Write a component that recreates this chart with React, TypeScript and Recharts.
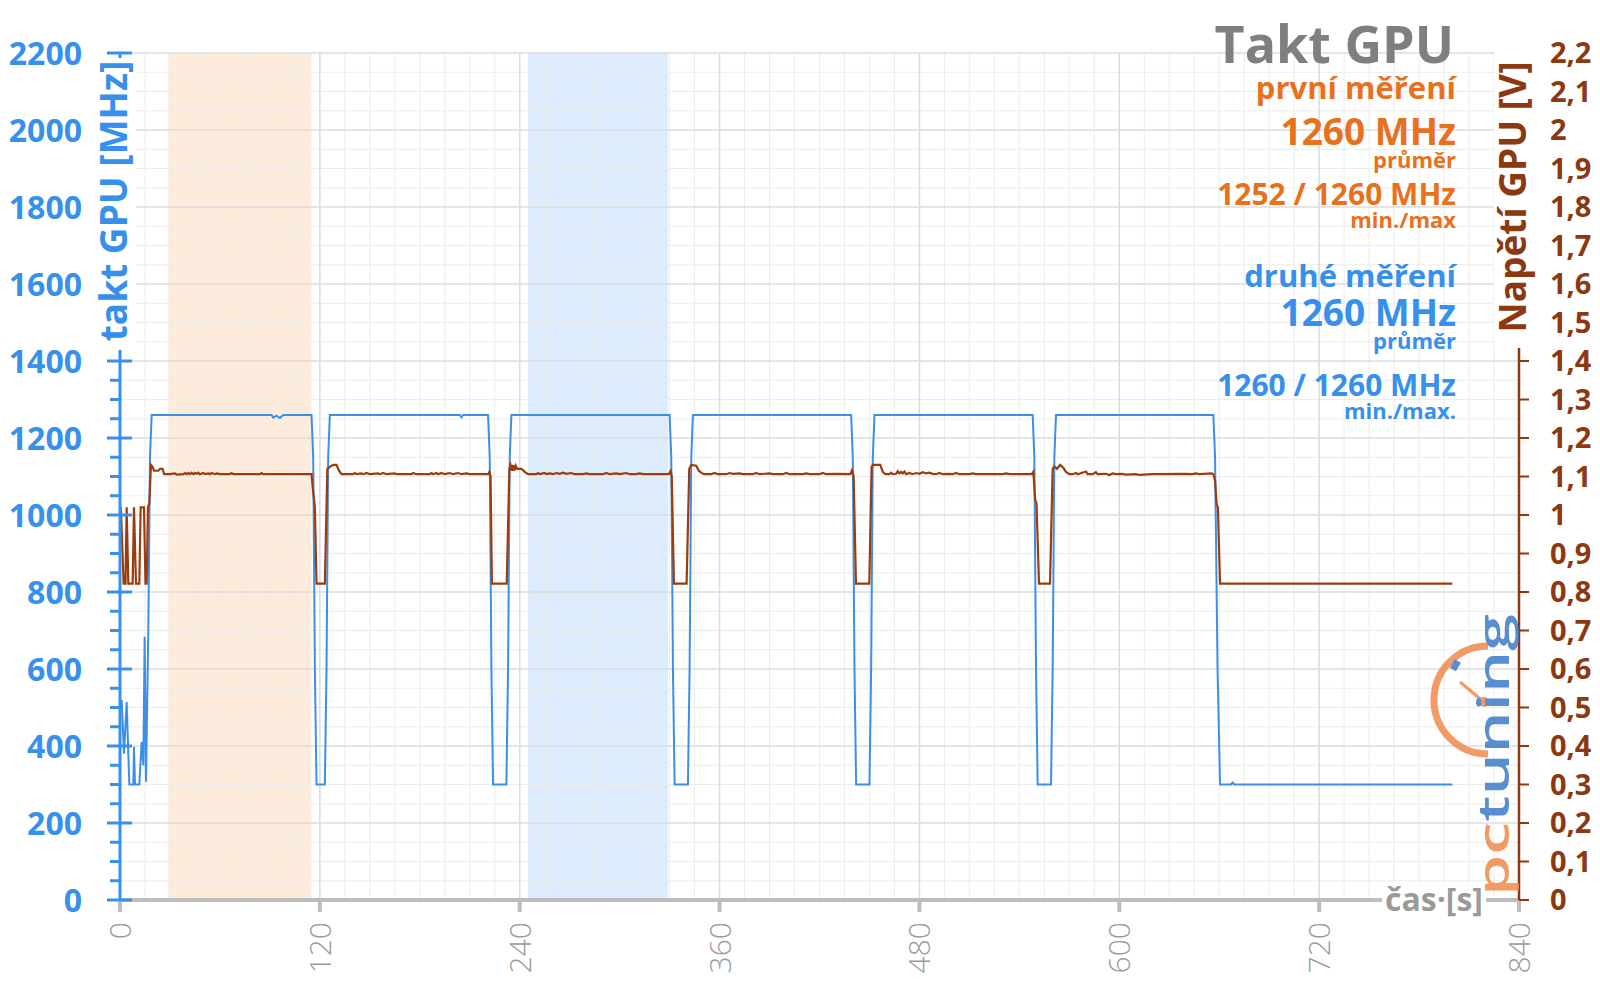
import React from 'react';
import { LineChart, Line, XAxis, YAxis, ReferenceArea, ReferenceLine } from 'recharts';

// time [s] / GPU clock [MHz]
const clockPoints: [number, number][] = [
  [1, 520], [2.4, 380], [4, 514], [5.6, 300], [8, 300], [8.4, 398], [9, 300], [11.6, 300],
  [13, 411], [14, 350], [14.8, 684], [15.6, 307], [17, 700], [18, 1150], [19, 1260],
  [91, 1260], [92, 1253], [94, 1258], [96, 1252], [98, 1260],
  [115, 1260], [116, 1150], [117, 600], [118, 300], [123, 300], [124, 600], [125, 1150], [126, 1260],
  [204, 1260], [205, 1254], [206, 1260],
  [221, 1260], [222, 1150], [223, 600], [224, 300], [232, 300], [233, 600], [234, 1150], [235, 1260],
  [330, 1260], [331, 1150], [332, 600], [333, 300], [341, 300], [342, 600], [343, 1150], [344, 1260],
  [439, 1260], [440, 1150], [441, 600], [442, 300], [450, 300], [451, 600], [452, 1150], [453, 1260],
  [548, 1260], [549, 1150], [550, 600], [551, 300], [559, 300], [560, 600], [561, 1150], [562, 1260],
  [656.5, 1260], [657.5, 1150], [659, 600], [660.5, 300], [667, 300], [668, 305], [669, 300], [800, 300],
];

// time [s] / GPU voltage [V]
const voltPoints: [number, number][] = [
  [0.5, 1.02], [2.2, 0.822], [3.3, 0.822], [4, 1.02], [5, 0.822], [7.6, 0.822], [8.4, 1.02], [9.6, 0.822],
  [11.6, 0.822], [12.4, 1.02], [14.4, 1.02], [15.3, 0.822], [16, 0.822], [16.8, 1.02], [17.6, 1.03],
  [18.6, 1.13], [19.5, 1.125], [20.5, 1.115], [23, 1.115], [24, 1.12], [25.5, 1.12], [26.5, 1.106],
  [30, 1.106], [33, 1.108], [34, 1.105], [38, 1.106], [39, 1.109], [40, 1.106], [41, 1.109], [42, 1.106],
  [43, 1.11], [44, 1.106], [45, 1.109], [46, 1.107], [47, 1.11], [48, 1.106], [50, 1.109], [51, 1.106],
  [53, 1.108], [54, 1.106], [55, 1.109], [57, 1.106], [58, 1.108], [60, 1.106], [66, 1.106], [67, 1.109],
  [68, 1.106], [84, 1.106], [85, 1.109], [86, 1.106], [115, 1.106],
  [116, 1.06], [117, 1.02], [118, 0.822], [123, 0.822], [124.5, 1.12], [126, 1.125], [128, 1.13],
  [130, 1.13], [131.5, 1.115], [133, 1.106],
  [140, 1.106], [141, 1.109], [142, 1.106], [145, 1.108], [146, 1.106], [148, 1.109], [150, 1.106],
  [155, 1.108], [156, 1.106], [158, 1.109], [160, 1.106], [165, 1.108], [166, 1.106], [175, 1.106],
  [176, 1.109], [178, 1.106], [186, 1.106], [187, 1.109], [188, 1.106], [190, 1.109], [191, 1.106],
  [193, 1.109], [195, 1.106], [198, 1.109], [200, 1.106], [203, 1.109], [205, 1.106], [208, 1.108],
  [210, 1.106], [221, 1.106], [221.8, 1.112],
  [222.5, 1.1], [223.3, 0.822], [232.2, 0.822], [233.8, 1.12], [234.5, 1.13], [235.3, 1.115], [236, 1.13],
  [236.8, 1.115], [237.6, 1.128], [238.5, 1.12], [241, 1.12], [243, 1.112], [245, 1.106],
  [250, 1.106], [251, 1.109], [252, 1.106], [255, 1.109], [256, 1.106], [258, 1.108], [260, 1.106],
  [262, 1.109], [264, 1.107], [266, 1.11], [268, 1.107], [271, 1.109], [273, 1.106], [278, 1.106],
  [280, 1.108], [282, 1.106], [290, 1.106], [292, 1.109], [294, 1.106], [298, 1.108], [300, 1.106],
  [304, 1.109], [306, 1.106], [310, 1.106], [312, 1.108], [314, 1.106], [329.5, 1.106], [330.5, 1.114],
  [331.3, 1.1], [332.6, 0.822], [340.2, 0.822], [341.8, 1.12], [343, 1.13], [346, 1.128], [347.5, 1.115],
  [349, 1.11], [350.5, 1.106],
  [355, 1.106], [357, 1.109], [359, 1.106], [364, 1.106], [366, 1.109], [368, 1.107], [372, 1.108],
  [374, 1.106], [380, 1.106], [382, 1.109], [384, 1.106], [390, 1.108], [392, 1.106], [398, 1.106],
  [400, 1.109], [402, 1.106], [410, 1.106], [412, 1.108], [414, 1.106], [420, 1.106], [422, 1.109],
  [424, 1.106], [430, 1.107], [438.5, 1.106], [439.5, 1.116],
  [440.5, 1.1], [441.9, 0.822], [449.9, 0.822], [451.3, 1.125], [452, 1.13], [456.5, 1.13], [458, 1.112],
  [459.5, 1.106],
  [462, 1.106], [463, 1.11], [464, 1.106], [466, 1.107], [467, 1.114], [468, 1.108], [469, 1.112],
  [470, 1.108], [471, 1.113], [472, 1.106], [474, 1.109], [476, 1.106], [478, 1.109], [480, 1.107],
  [482, 1.111], [484, 1.108], [486, 1.11], [488, 1.107], [490, 1.106], [492, 1.109], [494, 1.106],
  [497, 1.107], [500, 1.106], [502, 1.109], [504, 1.106], [510, 1.106], [512, 1.108], [514, 1.106],
  [530, 1.106], [532, 1.108], [534, 1.106], [547.5, 1.106], [548.4, 1.112],
  [549.5, 1.04], [550.3, 1.03], [551.8, 0.822], [558.4, 0.822], [560, 1.12], [561, 1.126], [562.5, 1.12],
  [564.5, 1.13], [566.5, 1.122], [568, 1.112], [570, 1.106],
  [572, 1.106], [574, 1.109], [575, 1.106], [580, 1.113], [581, 1.106], [584, 1.106], [586, 1.111],
  [587, 1.106], [592, 1.107], [594, 1.104], [596, 1.108], [598, 1.106], [602, 1.107], [604, 1.105],
  [610, 1.106], [612, 1.104], [620, 1.106], [640, 1.107], [644, 1.106], [646, 1.108], [648, 1.106],
  [655.5, 1.108], [656.5, 1.106],
  [657.5, 1.09], [658.5, 1.026], [659.2, 1.02], [660.5, 0.822], [800, 0.822],
];

// shaded measurement windows [s]
const firstWindow = [29, 115];
const secondWindow = [245, 329];

const xTicks = [0, 120, 240, 360, 480, 600, 720, 840];
const mhzTicks = [0, 200, 400, 600, 800, 1000, 1200, 1400, 1600, 1800, 2000, 2200];
const voltTicks = [0, 0.1, 0.2, 0.3, 0.4, 0.5, 0.6, 0.7, 0.8, 0.9, 1, 1.1, 1.2, 1.3, 1.4, 1.5, 1.6, 1.7, 1.8, 1.9, 2, 2.1, 2.2];

const range = (from: number, to: number, step: number) => {
  const out: number[] = [];
  for (let v = from; v <= to; v += step) out.push(v);
  return out;
};
const mhzMinorTicks = range(0, 2200, 50);
const xMinorGrid = range(0, 840, 15).filter(v => v % 120 !== 0);
const yMinorGrid = range(0, 2200, 50).filter(v => v % 200 !== 0);

const clockData = clockPoints.map(([t, mhz]) => ({ t, mhz }));
const voltData = voltPoints.map(([t, v]) => ({ t, v }));

const BLUE = '#3690ec';
const LINE_BLUE = '#3d8fe6';
const BROWN = '#8c3810';
const LINE_BROWN = '#9c3c0c';
const ORANGE = '#e8711e';
const GRAY = '#9a9a9a';
const FONT = '"Open Sans", "Noto Sans", sans-serif';

const LeftTick = (props: any) => {
  const { x, y, payload } = props;
  const v = payload.value;
  const major = v % 200 === 0;
  return (
    <g>
      <line x1={major ? x - 13 : x - 10} x2={major ? x + 12 : x} y1={y} y2={y} stroke={BLUE} strokeWidth={3} />
      {major && (
        <text x={x - 38} y={y} dy="0.36em" textAnchor="end" fontFamily={FONT} fontWeight={700} fontSize={32} fill={BLUE}>
          {v}
        </text>
      )}
    </g>
  );
};

const RightTick = (props: any) => {
  const { x, y, payload } = props;
  const label = String(Math.round(payload.value * 10) / 10).replace('.', ',');
  return (
    <g>
      <line x1={x} x2={x + 10} y1={y} y2={y} stroke={BROWN} strokeWidth={2} />
      <text x={x + 31} y={y} dy="0.36em" textAnchor="start" fontFamily={FONT} fontWeight={700} fontSize={29} fill={BROWN}>
        {label}
      </text>
    </g>
  );
};

const BottomTick = (props: any) => {
  const { x, y, payload } = props;
  const tx = x + 11;
  const ty = y + 22;
  return (
    <g>
      <line x1={x} x2={x} y1={y} y2={y + 12} stroke="#bdbdbd" strokeWidth={4} />
      <text x={tx} y={ty} transform={`rotate(-90 ${tx} ${ty})`} textAnchor="end" fontFamily={FONT} fontWeight={300} fontSize={30} fill={GRAY}>
        {payload.value}
      </text>
    </g>
  );
};

// value line with a small caption right under it, kept as one text block
const Stat = ({ y, value, caption, size, fill }: { y: number; value: string; caption: string; size: number; fill: string }) => (
  <text x={1456} y={y} fill={fill}>
    <tspan x={1456} fontSize={size}>{value}</tspan>
    <tspan x={1456} dy={size === 37 ? 23 : 23} fontSize={22}>{caption}</tspan>
  </text>
);

const Overlay = () => (
  <svg width={1600} height={999} style={{ position: 'absolute', left: 0, top: 0, pointerEvents: 'none' }}>
    {/* axis titles */}
    <rect x={100} y={58} width={36} height={292} fill="#fff" />
    <text x={127} y={201} transform="rotate(-90 127 201)" textAnchor="middle" fontFamily={FONT} fontWeight={700} fontSize={37} fill={BLUE}>
      takt GPU [MHz]
    </text>
    <rect x={1494} y={50} width={42} height={298} fill="#fff" />
    <text x={1526} y={197} transform="rotate(-90 1526 197)" textAnchor="middle" fontFamily={FONT} fontWeight={700} fontSize={37} fill={BROWN}>
      Napětí GPU [V]
    </text>
    <rect x={1382} y={884} width={104} height={34} fill="#fff" />
    <text x={1434} y={911} textAnchor="middle" fontFamily={FONT} fontWeight={700} fontSize={32} fill={GRAY}>
      čas·[s]
    </text>

    {/* title block */}
    <g fontFamily={FONT} fontWeight={700} textAnchor="end">
      <text x={1454} y={63} fontSize={52} fill="#7f7f7f">Takt GPU</text>
      <text x={1456} y={99} fontSize={31} fill={ORANGE}>první měření</text>
      <Stat y={145} value="1260 MHz" caption="průměr" size={37} fill={ORANGE} />
      <Stat y={205} value="1252 / 1260 MHz" caption="min./max" size={30} fill={ORANGE} />
      <text x={1456} y={287} fontSize={31} fill={BLUE}>druhé měření</text>
      <Stat y={326} value="1260 MHz" caption="průměr" size={37} fill={BLUE} />
      <Stat y={396} value="1260 / 1260 MHz" caption="min./max." size={30} fill={BLUE} />
    </g>

    {/* pctuning watermark */}
    <g opacity={0.85}>
      <path d="M 1488 646 A 54 54 0 1 0 1488 754" fill="none" stroke="#f08a4b" strokeWidth={7} />
      <line x1={1460} y1={682} x2={1484} y2={702} stroke="#f08a4b" strokeWidth={3} />
      <circle cx={1484} cy={702} r={5} fill="#f08a4b" />
      <rect x={1452} y={660} width={7} height={10} fill="#3d7cc9" transform="rotate(30 1455 665)" />
      <text x={1509} y={896} transform="rotate(-90 1509 896)" fontFamily={FONT} fontWeight={600} fontSize={44}
        textLength={282} lengthAdjust="spacingAndGlyphs">
        <tspan fill="#f08a4b">pc</tspan>
        <tspan fill="#3d7cc9">tuning</tspan>
      </text>
    </g>
  </svg>
);

export default function App() {
  return (
    <div style={{ position: 'absolute', left: 0, top: 0, width: 1600, height: 999, background: '#fff' }}>
      <LineChart width={1600} height={999} margin={{ top: 53, right: 0, bottom: 0, left: 0 }}>
        <XAxis
          dataKey="t"
          type="number"
          domain={[0, 840]}
          ticks={xTicks}
          allowDataOverflow
          height={99}
          tickSize={0}
          tickMargin={0}
          tickLine={false}
          axisLine={{ stroke: '#bdbdbd', strokeWidth: 4 }}
          tick={<BottomTick />}
          interval={0}
        />
        <YAxis
          yAxisId="left"
          orientation="left"
          type="number"
          domain={[0, 2200]}
          ticks={mhzMinorTicks}
          allowDataOverflow
          width={120}
          tickSize={0}
          tickMargin={0}
          tickLine={false}
          axisLine={{ stroke: BLUE, strokeWidth: 3 }}
          tick={<LeftTick />}
          interval={0}
        />
        <YAxis
          yAxisId="right"
          orientation="right"
          type="number"
          domain={[0, 2.2]}
          ticks={voltTicks}
          allowDataOverflow
          width={81}
          tickSize={0}
          tickMargin={0}
          tickLine={false}
          axisLine={{ stroke: BROWN, strokeWidth: 2.5 }}
          tick={<RightTick />}
          interval={0}
        />

        {xMinorGrid.map(v => (
          <ReferenceLine key={`xm${v}`} x={v} yAxisId="left" stroke="#ececec" strokeWidth={1} />
        ))}
        {yMinorGrid.map(v => (
          <ReferenceLine key={`ym${v}`} y={v} yAxisId="left" stroke="#ececec" strokeWidth={1} />
        ))}
        {xTicks.slice(1, -1).map(v => (
          <ReferenceLine key={`x${v}`} x={v} yAxisId="left" stroke="#d6dde6" strokeWidth={1.5} />
        ))}
        {mhzTicks.slice(1).map(v => (
          <ReferenceLine key={`y${v}`} y={v} yAxisId="left" stroke="#dcdcdc" strokeWidth={1.5} />
        ))}

        <ReferenceArea x1={firstWindow[0]} x2={firstWindow[1]} yAxisId="left" fill="#fbd0a8" fillOpacity={0.4} stroke="none" />
        <ReferenceArea x1={secondWindow[0]} x2={secondWindow[1]} yAxisId="left" fill="#a8cff8" fillOpacity={0.4} stroke="none" />

        <Line
          data={clockData}
          dataKey="mhz"
          yAxisId="left"
          type="linear"
          stroke={LINE_BLUE}
          strokeWidth={2}
          dot={false}
          activeDot={false}
          isAnimationActive={false}
        />
        <Line
          data={voltData}
          dataKey="v"
          yAxisId="right"
          type="linear"
          stroke={LINE_BROWN}
          strokeWidth={2.2}
          dot={false}
          activeDot={false}
          isAnimationActive={false}
        />
      </LineChart>
      <Overlay />
    </div>
  );
}
